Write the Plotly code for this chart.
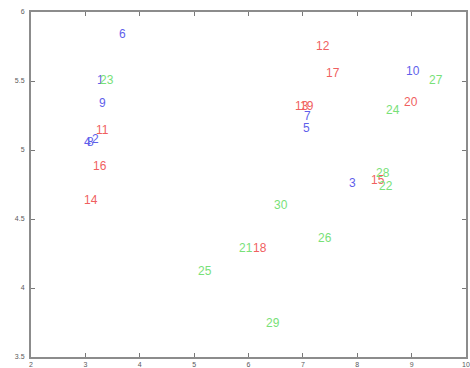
import plotly.graph_objects as go

labels = [str(i) for i in range(1, 31)]
x_vals = [3.195, 3.103, 7.827, 2.956, 6.98, 3.60, 7.00, 3.011, 3.23, 8.875,
          3.176, 7.22, 6.835, 2.956, 8.23, 3.12, 7.40, 6.06, 6.926, 8.84,
          5.805, 8.38, 3.25, 8.51, 5.05, 7.257, 9.30, 8.32, 6.30, 6.45]
y_vals = [5.507, 5.08, 4.761, 5.058, 5.159, 5.84, 5.246, 5.058, 5.34, 5.572,
          5.145, 5.754, 5.319, 4.638, 4.783, 4.884, 5.558, 4.29, 5.319, 5.348,
          4.29, 4.739, 5.507, 5.29, 4.123, 4.362, 5.507, 4.833, 3.746, 4.60]
groups = [0] * 10 + [1] * 10 + [2] * 10
group_colors = ["rgb(95,95,235)", "rgb(240,95,95)", "rgb(120,225,120)"]

x_ticks = [2, 3, 4, 5, 6, 7, 8, 9, 10]
y_ticks = [3.5, 4, 4.5, 5, 5.5, 6]

fig = go.Figure()
fig.add_trace(go.Scatter(x=[None], y=[None], mode="markers", showlegend=False))

annotations = []
for lab, xv, yv, g in zip(labels, x_vals, y_vals, groups):
    annotations.append(dict(x=xv, y=yv, text=lab, showarrow=False,
                            xanchor="left", yanchor="middle",
                            font=dict(family="Liberation Sans, Arial", size=12,
                                      color=group_colors[g]),
                            borderpad=0))

axis_common = dict(showgrid=False, zeroline=False, showline=True,
                   linecolor="rgb(140,140,140)", linewidth=2, mirror="ticks",
                   ticks="inside", ticklen=4, tickcolor="rgb(120,120,120)",
                   tickfont=dict(family="Liberation Sans, Arial", size=7,
                                 color="rgb(90,90,90)"))

fig.update_layout(
    width=470, height=368,
    margin=dict(l=31, r=4, t=12, b=11, autoexpand=False),
    plot_bgcolor="white", paper_bgcolor="white",
    annotations=annotations,
    xaxis=dict(range=[2, 10], tickvals=x_ticks, ticklabelstandoff=0,
               ticktext=[str(t) for t in x_ticks], **axis_common),
    yaxis=dict(range=[3.5, 6], tickvals=y_ticks, ticklabelstandoff=3,
               ticktext=[("%g" % t) for t in y_ticks], **axis_common),
)

fig.write_html("out.html", config={"displayModeBar": False},
               post_script="document.body.style.margin='0';document.body.style.overflow='hidden';")
